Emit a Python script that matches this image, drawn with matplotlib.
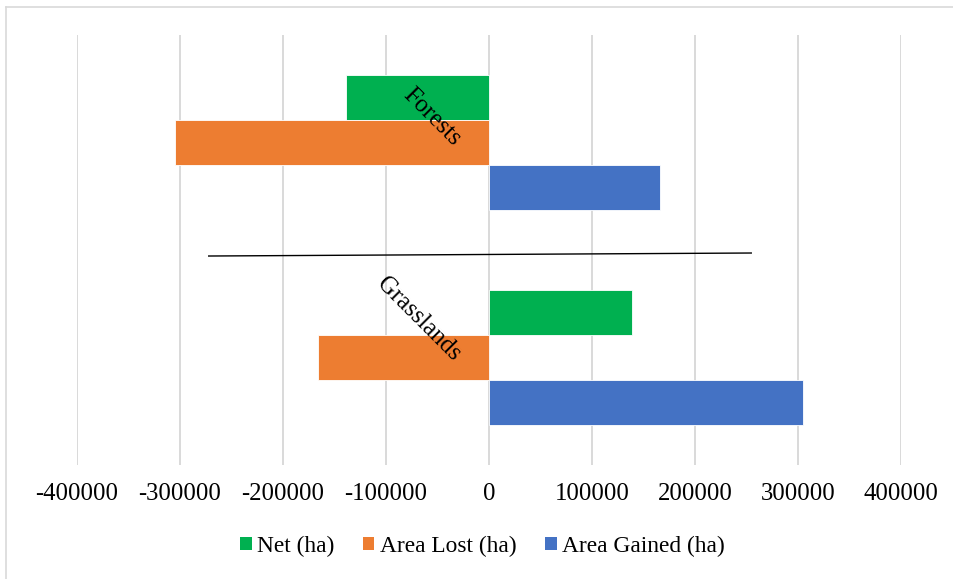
import matplotlib
matplotlib.use("Agg")
import matplotlib.pyplot as plt
from matplotlib.patches import Patch
from matplotlib.lines import Line2D

categories = ["Forests", "Grasslands"]
series_names = ["Net (ha)", "Area Lost (ha)", "Area Gained (ha)"]
net = [-139000, 139000]
area_lost = [-305000, -166000]
area_gained = [166000, 305000]
x_ticks = [-400000, -300000, -200000, -100000, 0, 100000, 200000, 300000, 400000]

colors = ["#00B050", "#ED7D31", "#4472C4"]
serif = ["Liberation Serif", "DejaVu Serif"]

W, H = 954, 579
fig = plt.figure(figsize=(W / 100, H / 100), dpi=100)
ax = fig.add_axes([77 / W, 1 - 465 / H, (901 - 77) / W, (465 - 35) / H])

bar_h = 0.209
offsets = [-bar_h, 0.0, bar_h]
for vals, off, col in zip([net, area_lost, area_gained], offsets, colors):
    ys = [i + off for i in range(len(categories))]
    ax.barh(ys, vals, height=bar_h, color=col, edgecolor="white",
            linewidth=0.6, zorder=3)

ax.set_xlim(x_ticks[0], x_ticks[-1])
ax.set_ylim(1.5, -0.5)
ax.set_xticks(x_ticks)
ax.set_xticklabels([str(t) for t in x_ticks], fontsize=17.8, family=serif)
ax.tick_params(axis="x", length=0, pad=13)
ax.set_yticks([])
ax.grid(axis="x", color="#D9D9D9", linewidth=1.4, zorder=0)
for s in ax.spines.values():
    s.set_visible(False)

# rotated category labels next to the value axis
for i, name in enumerate(categories):
    ax.text(-31000, i, name, rotation=-45, rotation_mode="anchor",
            ha="right", va="center", fontsize=17.8, family=serif, zorder=5)

# separator line between the two groups
ax.plot([-272800, 255300], [0.528, 0.514], color="black", linewidth=1.0,
        zorder=4, solid_capstyle="butt")

handles = [Patch(facecolor=c, edgecolor="none") for c in colors]
fig.legend(handles, series_names, loc="center",
           bbox_to_anchor=(482.5 / W, 1 - 546 / H), ncol=3, frameon=False,
           prop={"family": serif, "size": 16.8},
           handlelength=0.5, handleheight=0.5, handletextpad=0.25,
           columnspacing=1.2)

# chart area frame
fig.add_artist(Line2D([6.5 / W, 1], [1 - 6.5 / H, 1 - 6.5 / H],
                      transform=fig.transFigure, color="#D9D9D9", linewidth=1.2))
fig.add_artist(Line2D([6.5 / W, 6.5 / W], [0, 1 - 6.5 / H],
                      transform=fig.transFigure, color="#D9D9D9", linewidth=1.2))

fig.savefig("out.png", dpi=100, facecolor="white")
